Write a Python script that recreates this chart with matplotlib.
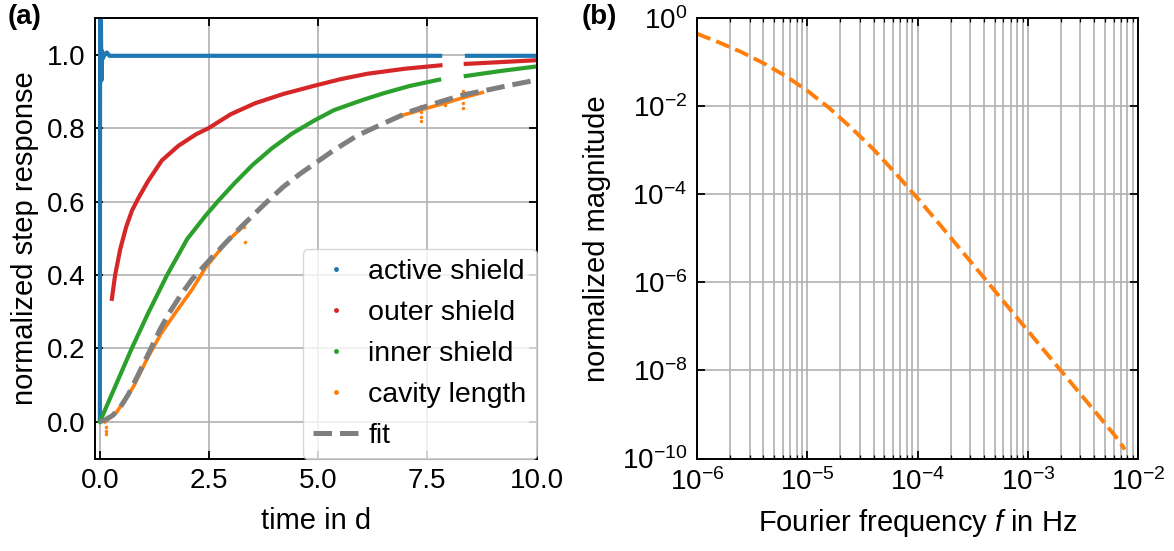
import numpy as np
import matplotlib
matplotlib.use("Agg")
import matplotlib.pyplot as plt
from matplotlib.lines import Line2D
from matplotlib.ticker import LogLocator, NullLocator, FixedLocator

plt.rcParams['font.family'] = ['Liberation Sans', 'DejaVu Sans']
plt.rcParams['mathtext.fontset'] = 'custom'
plt.rcParams['mathtext.rm'] = 'Liberation Sans'
plt.rcParams['mathtext.it'] = 'Liberation Sans:italic'
plt.rcParams['mathtext.bf'] = 'Liberation Sans:bold'
plt.rcParams['axes.unicode_minus'] = True

FS = 20
FSL = 21

# ---------------- data: panel (a) ----------------
active_t = [0.0, 0.006, 0.02, 0.035, 0.05, 0.07, 0.11, 0.16, 0.22, 7.84, np.nan, 8.36, 10.0]
active_v = [0.0, 1.15, 1.15, 0.93, 1.01, 0.99, 1.0, 1.006, 0.997, 0.997, np.nan, 0.997, 0.997]

outer_t = [0.275, 0.35, 0.466, 0.6, 0.734, 0.885, 1.1, 1.42, 1.8, 2.2, 2.49, 3.0, 3.56, 4.2, 4.9,
           5.5, 6.12, 7.0, 7.8, np.nan, 8.38, 9.2, 10.0]
outer_v = [0.335, 0.40, 0.47, 0.53, 0.575, 0.61, 0.655, 0.712, 0.752, 0.783, 0.80, 0.838, 0.868,
           0.893, 0.915, 0.933, 0.948, 0.962, 0.971, np.nan, 0.975, 0.98, 0.985]

inner_t = [0.0, 0.35, 0.73, 1.11, 1.54, 2.0, 2.41, 2.72, 3.10, 3.5, 3.94, 4.4, 4.9, 5.36, 6.0, 6.5,
           7.1, 7.77, np.nan, 8.38, 9.2, 10.0]
inner_v = [0.0, 0.096, 0.20, 0.297, 0.40, 0.498, 0.56, 0.603, 0.652, 0.70, 0.745, 0.785, 0.82,
           0.849, 0.876, 0.895, 0.915, 0.932, np.nan, 0.942, 0.956, 0.968]

cavity_t = [0.12, 0.39, 0.77, 1.11, 1.40, 1.73, 2.11, 2.42, 2.90, 3.26, 3.40, np.nan,
            6.96, 7.36, 7.90, 8.32, 8.76]
cavity_v = [0.0, 0.027, 0.096, 0.178, 0.24, 0.297, 0.36, 0.42, 0.49, 0.53, 0.55, np.nan,
            0.836, 0.85, 0.868, 0.883, 0.897]

cavity_out_t = [0.14, 0.14, 0.15, 3.33, 3.29, 7.36, 7.36, 7.36, 7.36, 7.90, 7.90, 8.32, 8.32, 8.32, 8.32]
cavity_out_v = [-0.015, -0.025, -0.032, 0.49, 0.53, 0.82, 0.83, 0.845, 0.86, 0.862, 0.875, 0.856,
                0.868, 0.885, 0.90]

fit_t = [0.0, 0.12, 0.3, 0.47, 0.65, 0.81, 1.0, 1.19, 1.38, 1.57, 1.85, 2.11, 2.53, 2.9, 3.26,
         3.79, 4.2, 4.59, 5.0, 5.36, 5.9, 6.5, 7.1, 7.8, 8.3, 8.88, 9.4, 9.83, 10.0]
fit_v = [0.0, 0.005, 0.018, 0.04, 0.074, 0.112, 0.158, 0.205, 0.252, 0.293, 0.345, 0.388, 0.443,
         0.49, 0.534, 0.595, 0.64, 0.676, 0.71, 0.74, 0.78, 0.813, 0.845, 0.872, 0.89, 0.904,
         0.917, 0.927, 0.931]

# ---------------- data: panel (b) ----------------
freq = [1e-6, 1.58e-6, 2.51e-6, 3.98e-6, 6.31e-6, 1e-5, 1.58e-5, 2.51e-5, 3.98e-5, 6.31e-5,
        1e-4, 1.58e-4, 2.51e-4, 3.98e-4, 6.31e-4, 1e-3, 1.58e-3, 2.51e-3, 3.98e-3, 6.31e-3, 7.6e-3]
mag = [0.44, 0.28, 0.17, 0.095, 0.049, 0.0224, 9.1e-3, 3.2e-3, 1.05e-3, 3.0e-4,
       8.1e-5, 2.1e-5, 5.2e-6, 1.3e-6, 3.2e-7, 8.0e-8, 2.0e-8, 5.0e-9, 1.25e-9, 3.1e-10, 1.6e-10]

c_blue, c_red, c_green, c_orange, c_grey = '#1f77b4', '#d62728', '#2ca02c', '#ff7f0e', '#7f7f7f'

fig = plt.figure(figsize=(11.74, 5.51), dpi=100)
W, H = 1174, 551
axa = fig.add_axes([95.5 / W, (H - 458.5) / H, 441 / W, 440.5 / H])
axb = fig.add_axes([697 / W, (H - 458.5) / H, 441 / W, 440.5 / H])

def style(ax):
    ax.tick_params(which='both', direction='in', top=True, right=True, labelsize=FS)
    ax.tick_params(which='major', length=6, width=1.3, pad=7)
    ax.tick_params(which='minor', length=3.2, width=0.9)
    for s in ax.spines.values():
        s.set_linewidth(1.4)
    ax.set_axisbelow(True)

# panel a
lw = 3.0
axa.plot(active_t, active_v, color=c_blue, lw=lw, solid_capstyle='butt')
axa.plot(outer_t, outer_v, color=c_red, lw=lw)
axa.plot(inner_t, inner_v, color=c_green, lw=lw)
axa.plot(cavity_t, cavity_v, color=c_orange, lw=2.6)
axa.plot(cavity_out_t, cavity_out_v, ls='none', marker='o', ms=2.5, color=c_orange, mec='none')
axa.plot(fit_t, fit_v, color=c_grey, lw=3.6, ls='--')
axa.set_xlim(-0.1, 10.0)
axa.set_ylim(-0.1, 1.1)
axa.set_xticks([0, 2.5, 5.0, 7.5, 10.0])
axa.set_xticklabels(['0.0', '2.5', '5.0', '7.5', '10.0'])
axa.set_yticks([0.0, 0.2, 0.4, 0.6, 0.8, 1.0])
axa.set_yticklabels(['0.0', '0.2', '0.4', '0.6', '0.8', '1.0'])
axa.grid(True, color='#b0b0b0', lw=1.2)
style(axa)
axa.set_xlabel('time in d', fontsize=FSL, labelpad=9)
axa.set_ylabel('normalized step response', fontsize=FSL, labelpad=6)

handles = [
    Line2D([], [], ls='none', marker='.', ms=5, color=c_blue),
    Line2D([], [], ls='none', marker='.', ms=5, color=c_red),
    Line2D([], [], ls='none', marker='.', ms=5, color=c_green),
    Line2D([], [], ls='none', marker='.', ms=5, color=c_orange),
    Line2D([], [], ls='--', lw=3.6, color=c_grey),
]
labels = ['active shield', 'outer shield', 'inner shield', 'cavity length', 'fit']
leg = axa.legend(handles, labels, loc='lower right', fontsize=FS + 0.5, borderaxespad=0.0,
                 labelspacing=0.52, handletextpad=0.35, handlelength=1.6,
                 framealpha=0.8, edgecolor='#cccccc', borderpad=0.35)

# panel b
axb.loglog(freq, mag, color=c_orange, lw=2.8, ls='--')
axb.set_xlim(1e-6, 1e-2)
axb.set_ylim(1e-10, 1)
axb.xaxis.set_major_locator(FixedLocator([1e-6, 1e-5, 1e-4, 1e-3, 1e-2]))
axb.xaxis.set_minor_locator(LogLocator(base=10, subs=np.arange(2, 10)))
axb.yaxis.set_major_locator(FixedLocator([1e-10, 1e-8, 1e-6, 1e-4, 1e-2, 1]))
axb.yaxis.set_minor_locator(NullLocator())
axb.set_xticklabels([r'$10^{-6}$', r'$10^{-5}$', r'$10^{-4}$', r'$10^{-3}$', r'$10^{-2}$'])
axb.set_yticklabels([r'$10^{-10}$', r'$10^{-8}$', r'$10^{-6}$', r'$10^{-4}$', r'$10^{-2}$', r'$10^{0}$'])
axb.grid(True, which='both', axis='x', color='#b0b0b0', lw=1.2)
axb.grid(True, which='major', axis='y', color='#b0b0b0', lw=1.2)
style(axb)
axb.set_xlabel(r'Fourier frequency $f$ in Hz', fontsize=FSL, labelpad=8)
axb.set_ylabel('normalized magnitude', fontsize=FSL, labelpad=8)

fig.text(8 / W, 1 - 17 / H, '(a)', fontsize=FS, fontweight='bold', va='center', ha='left')
fig.text(582 / W, 1 - 17 / H, '(b)', fontsize=FS, fontweight='bold', va='center', ha='left')

fig.savefig('out.png', dpi=100)
